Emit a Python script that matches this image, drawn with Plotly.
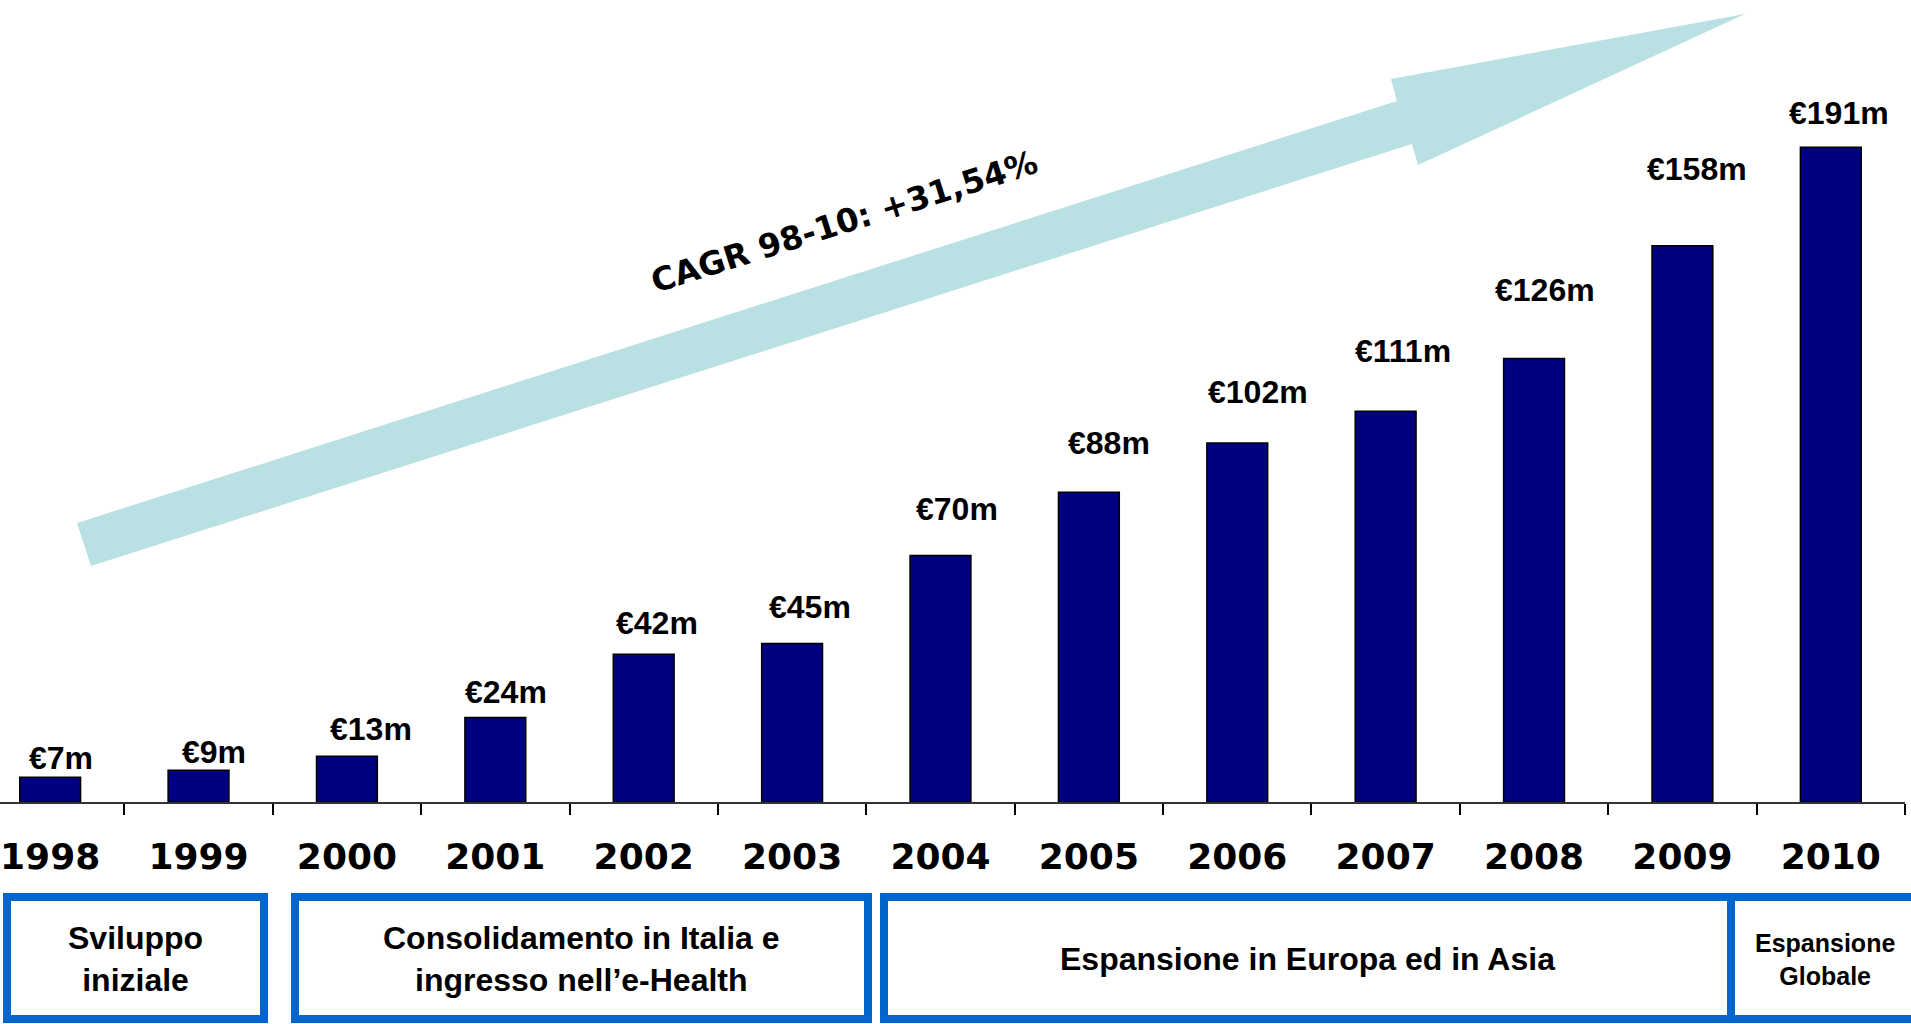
import plotly.graph_objects as go

# ---------------- data ----------------
years = ["1998", "1999", "2000", "2001", "2002", "2003", "2004",
         "2005", "2006", "2007", "2008", "2009", "2010"]
# bar heights as drawn in the picture (€m)
revenue_m = [7, 9, 13, 24, 42, 45, 70, 88, 102, 111, 126, 158, 186]
# value labels as printed above the bars
value_labels = ["€7m", "€9m", "€13m", "€24m", "€42m", "€45m", "€70m",
                "€88m", "€102m", "€111m", "€126m", "€158m", "€191m"]

phase_labels = ["Sviluppo<br>iniziale",
                "Consolidamento in Italia e<br>ingresso nell’e-Health",
                "Espansione in Europa ed in Asia",
                "Espansione<br>Globale"]
cagr_text = "CAGR 98-10: +31,54%"

# ---------------- styling / layout helpers ----------------
W, H = 1911, 1024
PL, PR, PT, PB = 0, 6, 0, 222          # plot area margins (px)
PW, PH = W - PL - PR, H - PT - PB      # plot area size (px)
PX_PER_UNIT = 3.52                     # vertical scale (px per €m)

label_xshift = [11, 15, 24, 11, 13, 18, 17, 20, 21, 17, 11, 15, 8]
label_yshift = [-1, -2, 7, 6, 11, 17, 27, 29, 31, 40, 48, 57, 14]

BAR_COLOR = "#000080"
BOX_COLOR = "#0066CC"
ARROW_COLOR = "#B9E0E3"
LABEL_FONT = "Liberation Sans, Arial, sans-serif"
YEAR_FONT = "DejaVu Sans, Verdana, sans-serif"


def px(x):
    return (x - PL) / PW


def py(y):
    return 1 - (y - PT) / PH


fig = go.Figure()
fig.add_trace(go.Bar(
    x=years, y=revenue_m, width=0.41,
    marker=dict(color=BAR_COLOR, line=dict(color="black", width=1.5)),
    hoverinfo="x+y",
))

# value labels (x given as category index)
for i, (v, t) in enumerate(zip(revenue_m, value_labels)):
    fig.add_annotation(x=i, y=v, text=t, showarrow=False,
                       xref="x", yref="y", xanchor="center", yanchor="bottom",
                       xshift=label_xshift[i], yshift=label_yshift[i],
                       font=dict(family=LABEL_FONT, size=32, color="black",
                                 weight="bold"))

# growth arrow (decorative)
arrow_pts = [(77, 523), (1397, 101), (1391, 79), (1745, 14),
             (1418, 165), (1412, 144), (91, 566)]
path = "M " + " L ".join("%.5f,%.5f" % (px(a), py(b)) for a, b in arrow_pts) + " Z"
fig.add_shape(type="path", path=path, xref="paper", yref="paper",
              fillcolor=ARROW_COLOR, line=dict(width=0), layer="below")

fig.add_annotation(x=px(844), y=py(222), xref="paper", yref="paper",
                   xanchor="center", yanchor="middle",
                   text=cagr_text, showarrow=False, textangle=-17.5,
                   font=dict(family=YEAR_FONT, size=32.5, color="black",
                             weight="bold"))

# phase boxes
boxes = [(7, 264), (295, 868), (884, 1731), (1731, 1916)]
box_top, box_bottom = 897, 1019
for (x0, x1) in boxes:
    fig.add_shape(type="rect", xref="paper", yref="paper",
                  x0=px(x0), x1=px(x1), y0=py(box_bottom), y1=py(box_top),
                  line=dict(color=BOX_COLOR, width=8), fillcolor="rgba(0,0,0,0)")

phase_sizes = [32, 32, 32, 25]
phase_cx = [135.5, 581.5, 1307, 1825]
for txt, sz, cx in zip(phase_labels, phase_sizes, phase_cx):
    fig.add_annotation(x=px(cx), y=py(959), xref="paper", yref="paper",
                       xanchor="center", yanchor="middle",
                       text=txt, showarrow=False,
                       font=dict(family=LABEL_FONT, size=sz, color="black",
                                 weight="bold"))

fig.update_xaxes(
    type="category", range=[-0.338, 12.5],
    showline=True, linecolor="#333333", linewidth=2,
    ticks="outside", tickson="boundaries", ticklen=11, tickwidth=2,
    tickcolor="black", ticklabelstandoff=22,
    tickfont=dict(family=YEAR_FONT, size=36, color="black", weight="bold"),
    showgrid=False, zeroline=False,
)
fig.update_yaxes(range=[0, PH / PX_PER_UNIT], visible=False,
                 showgrid=False, zeroline=False)

fig.update_layout(
    width=W, height=H,
    margin=dict(l=PL, r=PR, t=PT, b=PB, pad=0),
    plot_bgcolor="white", paper_bgcolor="white",
    showlegend=False, bargap=0.59,
)

fig.write_html("out.html",
               config={"displayModeBar": False},
               post_script="document.body.style.margin='0';"
                           "document.body.style.overflow='hidden';")
